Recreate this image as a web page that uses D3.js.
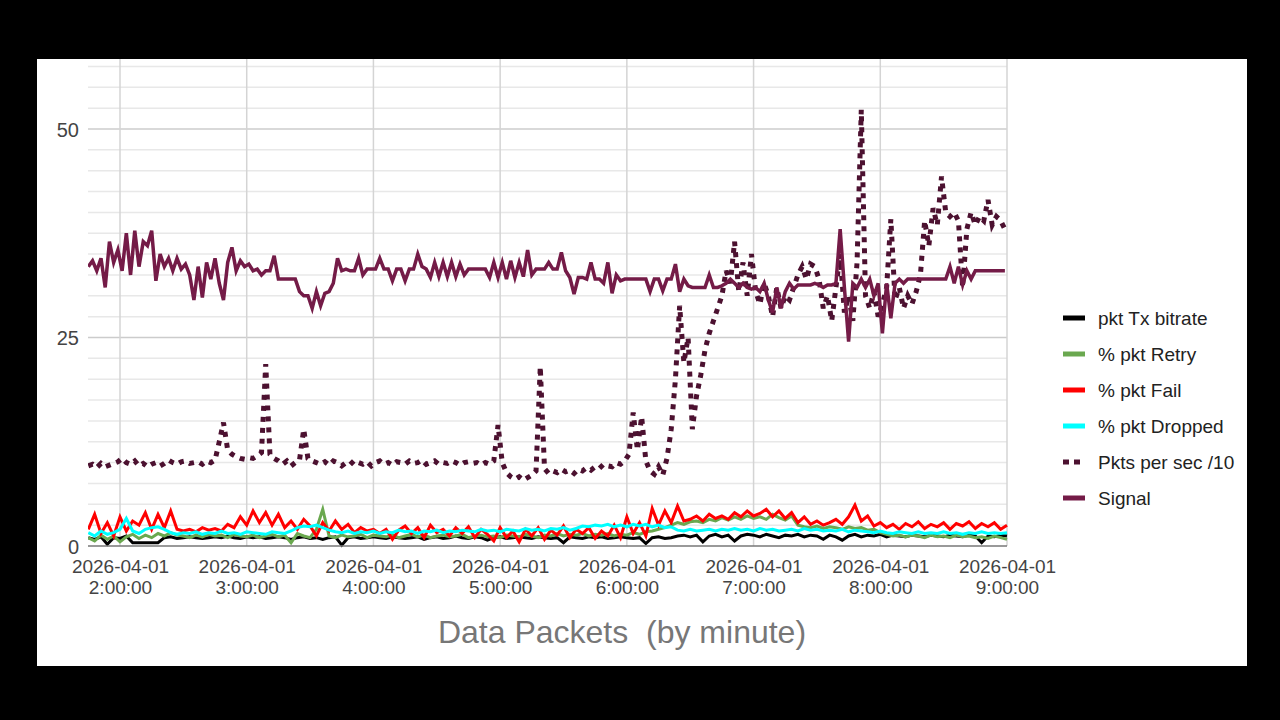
<!DOCTYPE html>
<html><head><meta charset="utf-8">
<script src="https://cdn.jsdelivr.net/npm/d3@7"></script>
<style>body{margin:0;background:#000;}svg{display:block;font-family:"Liberation Sans",Arial,sans-serif;}</style>
</head><body>
<svg id="c" width="1280" height="720"></svg>
<script>
// ---- data ----
const startTime = "2026-04-01T01:45:00";
const stepSlow = 2; // minutes between points (signal, pkts)
const stepFast = 3; // minutes between points (bottom series)
const tickDate = "2026-04-01";
const tickLabels = ["2:00:00","3:00:00","4:00:00","5:00:00","6:00:00","7:00:00","8:00:00","9:00:00"];
const yTicks = [0, 25, 50];
const seriesNames = ["pkt Tx bitrate","% pkt Retry","% pkt Fail","% pkt Dropped","Pkts per sec /10","Signal"];

const txBitrate = [1.0,0.8,1.1,0.2,1.0,0.9,1.2,0.4,0.4,0.4,0.4,0.4,1.0,1.1,0.9,1.0,1.1,1.0,0.9,1.0,
 1.1,1.0,1.2,1.0,0.9,1.1,1.0,1.1,0.9,1.0,1.1,1.0,0.8,1.0,1.1,0.9,1.0,0.8,1.0,1.1,
 0.1,1.0,1.1,0.9,1.0,1.1,1.0,0.9,1.1,1.0,0.9,1.0,1.1,0.8,1.0,1.1,0.9,1.0,1.2,1.0,
 0.9,1.1,1.0,0.7,1.0,1.1,0.9,1.0,1.1,1.0,0.9,1.1,1.0,0.9,1.0,0.4,1.1,1.0,0.9,1.1,
 1.0,1.1,0.9,1.0,1.1,1.0,0.9,1.0,0.3,1.0,1.1,0.9,1.0,1.2,1.3,1.1,1.3,0.5,1.2,1.4,
 1.1,1.3,0.6,1.2,1.4,1.3,1.1,1.4,1.2,1.0,1.3,1.2,1.4,1.1,1.3,1.2,0.8,1.3,1.1,0.7,
 1.2,1.4,1.1,1.3,1.2,1.4,1.1,1.3,1.2,1.1,1.3,1.2,1.1,1.3,1.2,1.1,1.3,1.2,1.1,1.3,
 1.2,0.4,1.2,1.1,1.3,1.2];

const retry = [1.0,0.6,1.3,0.8,1.2,0.5,1.1,1.4,0.9,1.3,
 1.0,1.5,1.2,1.6,1.3,1.2,1.0,1.3,1.1,1.4,
 1.2,1.3,1.0,1.4,1.2,1.1,1.3,1.0,1.2,1.4,
 1.1,1.3,0.4,1.5,1.2,1.0,2.0,4.4,1.2,1.0,
 1.3,1.1,1.2,1.4,1.0,1.3,1.2,1.1,1.3,1.0,
 1.2,1.4,1.1,1.3,1.0,1.2,1.3,1.1,1.2,1.4,
 1.0,1.2,1.3,1.1,1.2,1.0,1.3,1.2,1.1,1.4,
 1.2,1.0,1.3,1.2,1.5,1.2,1.4,1.3,1.5,1.2,
 1.4,1.3,1.5,1.2,1.4,1.3,1.6,1.4,1.7,1.8,
 2.0,2.2,2.5,2.8,2.6,2.9,3.0,2.8,3.2,3.0,
 3.4,3.1,3.5,3.2,3.6,3.3,3.5,3.2,3.8,3.4,
 3.1,3.6,2.5,2.3,2.2,2.4,2.1,2.3,2.2,2.0,
 2.3,2.1,2.2,1.9,2.0,1.6,1.4,1.2,1.3,1.1,
 1.3,1.2,1.0,1.3,1.1,1.2,1.0,1.3,1.1,1.2,
 1.0,1.1,0.9,1.2,1.0,0.8];

const fail = [2.0,3.8,1.5,2.8,1.2,3.5,1.8,3.0,2.5,4.0,
 2.0,3.8,2.2,4.2,2.0,1.8,2.0,1.7,2.2,1.9,
 2.1,1.8,2.6,2.2,3.5,2.5,4.2,2.8,4.0,2.5,
 3.8,2.2,3.0,2.0,3.2,2.4,1.2,2.8,1.8,3.0,
 2.0,2.6,1.6,2.2,1.8,2.0,1.5,2.0,0.8,1.9,
 2.4,1.5,2.2,1.0,2.5,1.6,2.0,1.2,2.2,1.5,
 2.3,1.0,2.0,1.4,0.6,2.2,1.0,1.8,0.5,2.0,
 1.2,2.2,0.8,1.9,1.3,2.4,1.0,2.0,1.5,2.2,
 0.9,1.8,1.2,2.5,1.0,3.5,1.5,2.8,1.2,4.5,
 2.5,4.2,2.8,4.8,3.0,3.2,3.6,3.0,3.8,3.3,
 3.6,3.2,4.0,3.5,4.2,3.6,3.9,4.4,3.5,4.2,
 3.3,4.0,2.8,3.5,2.6,3.0,2.5,2.8,3.2,2.6,
 3.5,4.9,3.0,3.6,2.4,2.8,2.2,2.6,2.0,2.7,
 2.3,2.9,2.1,2.6,2.3,2.8,2.0,2.7,2.4,2.9,
 2.1,2.7,2.3,2.8,2.0,2.5];

const dropped = [1.6,1.2,1.8,1.4,1.6,2.0,3.3,1.8,1.5,2.0,
 2.2,2.3,2.0,1.6,1.4,1.6,1.5,1.7,1.4,1.6,
 1.5,1.8,1.5,1.6,1.4,1.7,1.6,1.5,1.4,1.7,
 1.6,1.5,1.8,2.2,2.4,2.3,2.5,2.2,1.9,1.7,
 1.6,1.8,1.5,1.7,1.6,1.8,1.5,1.7,1.6,1.9,
 1.7,1.8,1.5,1.8,1.7,1.9,1.6,1.8,1.7,1.9,
 1.8,1.7,2.0,1.8,1.9,1.7,2.0,1.9,1.8,2.1,
 1.9,2.0,1.8,2.1,2.0,2.2,1.9,2.1,2.4,2.3,
 2.5,2.4,2.6,2.3,2.5,2.3,2.6,2.4,2.6,2.3,
 2.5,2.2,2.3,1.9,1.8,2.0,1.8,1.9,2.0,1.8,
 2.0,1.9,2.1,1.9,2.0,1.8,2.1,1.9,2.0,1.8,
 1.9,2.0,1.8,2.1,1.9,2.0,1.8,1.9,1.8,2.0,
 1.7,1.9,1.8,1.7,1.6,1.8,1.6,1.5,1.7,1.6,
 1.5,1.7,1.5,1.6,1.5,1.7,1.5,1.6,1.4,1.6,
 1.5,1.7,1.5,1.6,1.5,1.6];

const pktsPerSec = [9.6,9.8,9.4,9.9,9.5,9.7,9.9,10.1,10.5,10.0,
 9.8,10.2,9.6,9.9,9.5,9.8,10.0,9.6,9.9,10.3,
 10.0,9.8,10.1,10.2,9.9,10.0,10.1,9.8,10.2,10.0,
 10.3,12.5,14.8,11.5,11.0,10.7,10.5,10.4,10.6,10.5,
 10.8,11.2,21.8,11.0,10.5,10.2,9.8,10.2,9.6,10.0,
 10.3,14.0,10.5,10.2,10.0,9.8,10.1,9.7,10.2,10.0,
 9.6,10.0,10.2,9.7,10.0,9.8,10.1,9.6,10.0,10.2,
 9.8,10.0,9.7,10.1,10.0,9.8,10.2,9.9,10.0,10.3,
 9.8,10.0,10.2,9.8,10.0,9.9,10.2,10.0,9.7,10.0,
 10.1,9.9,10.0,9.7,10.0,9.8,10.2,14.5,10.0,8.8,
 8.3,8.0,8.3,7.9,8.2,8.5,9.0,21.5,9.3,8.7,
 9.0,8.8,9.2,8.9,9.1,8.7,9.2,9.0,9.4,9.1,
 9.5,9.3,9.8,9.6,9.5,10.0,9.8,10.2,11.0,16.0,
 11.5,15.5,10.2,9.0,8.6,9.5,8.5,10.5,14.0,20.0,
 28.8,22.0,25.0,14.0,18.0,20.5,23.5,25.5,27.0,28.5,
 30.0,33.0,31.5,36.5,30.5,34.0,30.0,35.0,30.5,29.0,
 31.5,30.0,27.5,31.0,28.5,30.0,29.5,31.0,32.5,33.5,
 32.0,33.8,33.5,32.0,28.5,30.0,27.0,31.0,35.0,28.0,
 30.0,27.0,34.0,52.3,30.0,28.5,30.5,27.5,29.0,31.0,
 39.2,29.5,31.0,28.5,30.0,29.0,30.5,32.5,39.0,36.0,
 40.5,38.5,44.3,40.0,39.5,40.0,39.0,31.0,38.0,40.0,
 38.5,39.5,39.0,41.5,38.5,39.5,39.0,38.0];

const signal = [33.5,34.2,33.0,34.5,31.0,36.5,34.0,35.5,33.0,37.5,
 32.5,37.8,33.5,36.5,36.0,37.8,31.8,35.0,33.5,34.5,
 33.0,34.5,33.2,33.8,32.5,29.5,33.5,29.8,34.0,32.0,
 34.5,31.5,29.5,34.0,35.8,33.0,34.2,33.5,33.8,33.0,
 33.2,32.5,33.0,33.0,34.8,32.0,32.0,32.0,32.0,32.0,
 30.5,30.0,30.0,28.5,30.5,28.8,30.3,30.5,31.5,34.5,
 33.0,33.2,33.0,33.0,34.5,32.5,33.2,33.2,33.2,34.5,
 33.2,33.2,31.8,33.2,33.2,31.8,33.2,33.2,35.0,33.5,
 33.2,32.2,34.0,32.3,34.0,32.3,34.0,32.3,33.8,32.5,
 33.2,33.2,33.2,33.2,33.2,32.2,34.0,32.2,34.0,32.0,
 34.2,32.2,34.0,32.3,35.5,32.5,33.2,33.2,33.2,34.0,
 33.2,33.2,35.2,33.0,32.2,30.2,32.2,32.2,32.0,34.0,
 32.0,32.0,31.5,34.0,30.3,32.5,31.8,32.0,32.0,32.0,
 32.0,32.0,32.0,30.5,32.0,32.0,30.6,32.0,32.0,33.8,
 30.5,32.0,31.2,31.0,31.0,31.0,31.0,32.5,31.0,31.0,
 31.2,31.5,32.0,31.5,31.0,31.5,31.0,30.8,31.0,30.5,
 31.5,29.5,28.0,31.0,28.5,30.5,31.5,30.8,31.3,31.3,
 31.3,31.3,31.5,31.3,31.0,31.3,31.3,31.5,38.0,31.0,
 24.5,31.5,31.0,32.0,31.0,32.0,30.0,31.5,25.5,31.5,
 27.3,31.5,32.0,31.5,32.0,32.0,32.0,32.0,32.0,32.0,
 32.0,32.0,32.0,32.0,33.5,31.5,33.5,31.3,33.0,32.0,
 33.0,33.0,33.0,33.0,33.0,33.0,33.0,33.0];

const colors = ["#000000","#6aa84f","#ff0000","#00ffff","#4c1130","#741b47"];

// ---- chart ----
const svg = d3.select("#c");
svg.append("rect").attr("width",1280).attr("height",720).attr("fill","#000");
svg.append("rect").attr("x",37).attr("y",59).attr("width",1210).attr("height",607).attr("fill","#fff");

const t0 = new Date(startTime);
const parseT = (i, step) => new Date(t0.getTime() + i*step*60000);
const x = d3.scaleTime()
  .domain([new Date("2026-04-01T02:00:00"), new Date("2026-04-01T09:00:00")])
  .range([120, 1007]);
const y = d3.scaleLinear().domain([0, 50]).range([546, 129]);
const plotL = 88, plotR = 1007, plotT = 59, plotB = 546;

// grid
const g = svg.append("g");
const minor = d3.range(2.5, 58, 2.5).filter(v => v % 25 !== 0);
g.selectAll(".hmin").data(minor).join("line")
  .attr("x1",plotL).attr("x2",plotR).attr("y1",d=>y(d)).attr("y2",d=>y(d))
  .attr("stroke","#e8e8e8").attr("stroke-width",1.5);
g.selectAll(".hmaj").data([25,50]).join("line")
  .attr("x1",plotL).attr("x2",plotR).attr("y1",d=>y(d)).attr("y2",d=>y(d))
  .attr("stroke","#cccccc").attr("stroke-width",1.5);
const hours = d3.range(2, 10).map(h => new Date(`2026-04-01T0${h}:00:00`));
g.selectAll(".v").data(hours).join("line")
  .attr("x1",d=>x(d)).attr("x2",d=>x(d)).attr("y1",plotT).attr("y2",plotB)
  .attr("stroke","#d4d4d4").attr("stroke-width",1.5);

// clip
svg.append("clipPath").attr("id","clip").append("rect")
  .attr("x",plotL).attr("y",plotT).attr("width",plotR-plotL+1).attr("height",plotB-plotT+3);

const plot = svg.append("g").attr("clip-path","url(#clip)");
const mk = (arr, step) => arr.map((v,i)=>({t:parseT(i,step), v}));
const line = d3.line().x(d=>x(d.t)).y(d=>y(d.v));

const series = [
  {data: mk(txBitrate, stepFast), w: 3},
  {data: mk(retry, stepFast), w: 3},
  {data: mk(fail, stepFast), w: 3},
  {data: mk(dropped, stepFast), w: 3},
  {data: mk(pktsPerSec, stepSlow), w: 5, dash: "5,6"},
  {data: mk(signal, stepSlow), w: 3.5}
];
series.forEach((s, k) => {
  plot.append("path").datum(s.data).attr("d", line)
    .attr("fill","none").attr("stroke",colors[k]).attr("stroke-width",s.w)
    .attr("stroke-dasharray", s.dash || null);
});

// baseline
svg.append("line").attr("x1",plotL).attr("x2",plotR).attr("y1",y(0)).attr("y2",y(0))
  .attr("stroke","#777").attr("stroke-width",1.5);

// x axis: date line via d3 axis, time line as second row
const xAxis = d3.axisBottom(x).tickValues(hours).tickSize(0).tickFormat(() => tickDate);
const xg = svg.append("g").attr("transform",`translate(0,${plotB})`).call(xAxis);
xg.select(".domain").remove();
xg.selectAll("text").attr("y",27).attr("dy",null).attr("fill","#444")
  .style("font-size","19px").style("font-family","'Liberation Sans',Arial,sans-serif");
xg.selectAll(".tick").append("text").attr("y",48).attr("fill","#444")
  .attr("text-anchor","middle")
  .style("font-size","19px").style("font-family","'Liberation Sans',Arial,sans-serif")
  .text((d,i)=>tickLabels[i]);

// y axis
const yAxis = d3.axisLeft(y).tickValues(yTicks).tickSize(0).tickFormat(d3.format("d"));
const yg = svg.append("g").attr("transform",`translate(79,0)`).call(yAxis);
yg.select(".domain").remove();
yg.selectAll("text").attr("x",0).attr("dy","0.35em").attr("fill","#444")
  .style("font-size","20px").style("font-family","'Liberation Sans',Arial,sans-serif");

// axis title
svg.append("text").attr("x",622).attr("y",643).attr("text-anchor","middle")
  .attr("fill","#777").style("font-size","32px").style("white-space","pre")
  .text("Data Packets  (by minute)");

// legend
const lg = svg.append("g");
seriesNames.forEach((n,k)=>{
  const cy = 318 + k*36;
  lg.append("line").attr("x1",1063).attr("x2",1085).attr("y1",cy).attr("y2",cy)
    .attr("stroke",colors[k]).attr("stroke-width",5)
    .attr("stroke-dasharray", k === 4 ? "6,5" : null);
  lg.append("text").attr("x",1098).attr("y",cy).attr("dy","0.35em")
    .attr("fill","#222").style("font-size","19px").text(n);
});
</script>
</body></html>
